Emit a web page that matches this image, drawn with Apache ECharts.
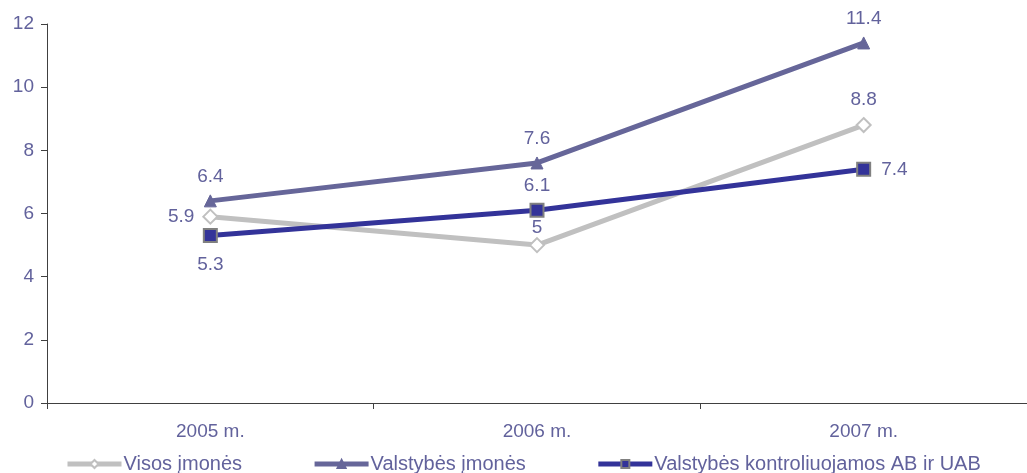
<!DOCTYPE html>
<html><head><meta charset="utf-8">
<script src="https://cdn.jsdelivr.net/npm/echarts@6/dist/echarts.min.js"></script>
<style>html,body{margin:0;padding:0;background:#fff}#c{width:1027px;height:473px}</style>
</head><body><div id="c"></div>
<script>
const categories = ['2005 m.', '2006 m.', '2007 m.'];
const visos = [5.9, 5, 8.8];
const valstybes = [6.4, 7.6, 11.4];
const kontroliuojamos = [5.3, 6.1, 7.4];
const seriesNames = ['Visos įmonės', 'Valstybės įmonės', 'Valstybės kontroliuojamos AB ir UAB'];

const txt = '#62629c';
const font = 'Liberation Sans, Arial, sans-serif';
const chart = echarts.init(document.getElementById('c'));
function lbl(pos, d){ return {show:true, position:pos, color:txt, fontSize:19, fontFamily:font, distance:d}; }
chart.setOption({
  animation:false,
  grid:{left:47, top:24, width:987, height:379, containLabel:false},
  legend:{
    top:449, left:60, itemGap:70, itemWidth:54, itemHeight:10,
    lineStyle:{width:5},
    textStyle:{color:txt, fontSize:20, fontFamily:font, padding:[0,0,0,-3]},
    data:seriesNames
  },
  xAxis:{type:'category', data:categories, boundaryGap:true,
    axisLine:{lineStyle:{color:'#404040', width:1}},
    axisTick:{show:true, length:6, lineStyle:{color:'#404040'}},
    axisLabel:{color:txt, fontSize:19, fontFamily:font, margin:19}},
  yAxis:{type:'value', min:0, max:12, interval:2,
    axisLine:{show:true, lineStyle:{color:'#404040', width:1}},
    axisTick:{show:true, length:6, lineStyle:{color:'#404040'}},
    splitLine:{show:false},
    axisLabel:{color:txt, fontSize:19, fontFamily:font, margin:13}},
  series:[
    {name:seriesNames[0], type:'line', data:visos.map((v,i)=>({value:v, label:lbl(['left','top','top'][i], [8,0,8][i])})),
      lineStyle:{color:'#c0c0c0', width:5}, itemStyle:{color:'#ffffff', borderColor:'#c0c0c0', borderWidth:2},
      symbol:'diamond', symbolSize:14, z:2},
    {name:seriesNames[1], type:'line', data:valstybes.map((v,i)=>({value:v, label:lbl('top', 8)})),
      lineStyle:{color:'#666699', width:5}, itemStyle:{color:'#666699', borderColor:'#666699', borderWidth:1},
      symbol:'triangle', symbolSize:12, z:3},
    {name:seriesNames[2], type:'line', data:kontroliuojamos.map((v,i)=>({value:v, label:lbl(['bottom','top','right'][i], [12,8,10][i])})),
      lineStyle:{color:'#333399', width:5}, itemStyle:{color:'#333399', borderColor:'#808080', borderWidth:2},
      symbol:'rect', symbolSize:13, z:4}
  ]
});
</script></body></html>
